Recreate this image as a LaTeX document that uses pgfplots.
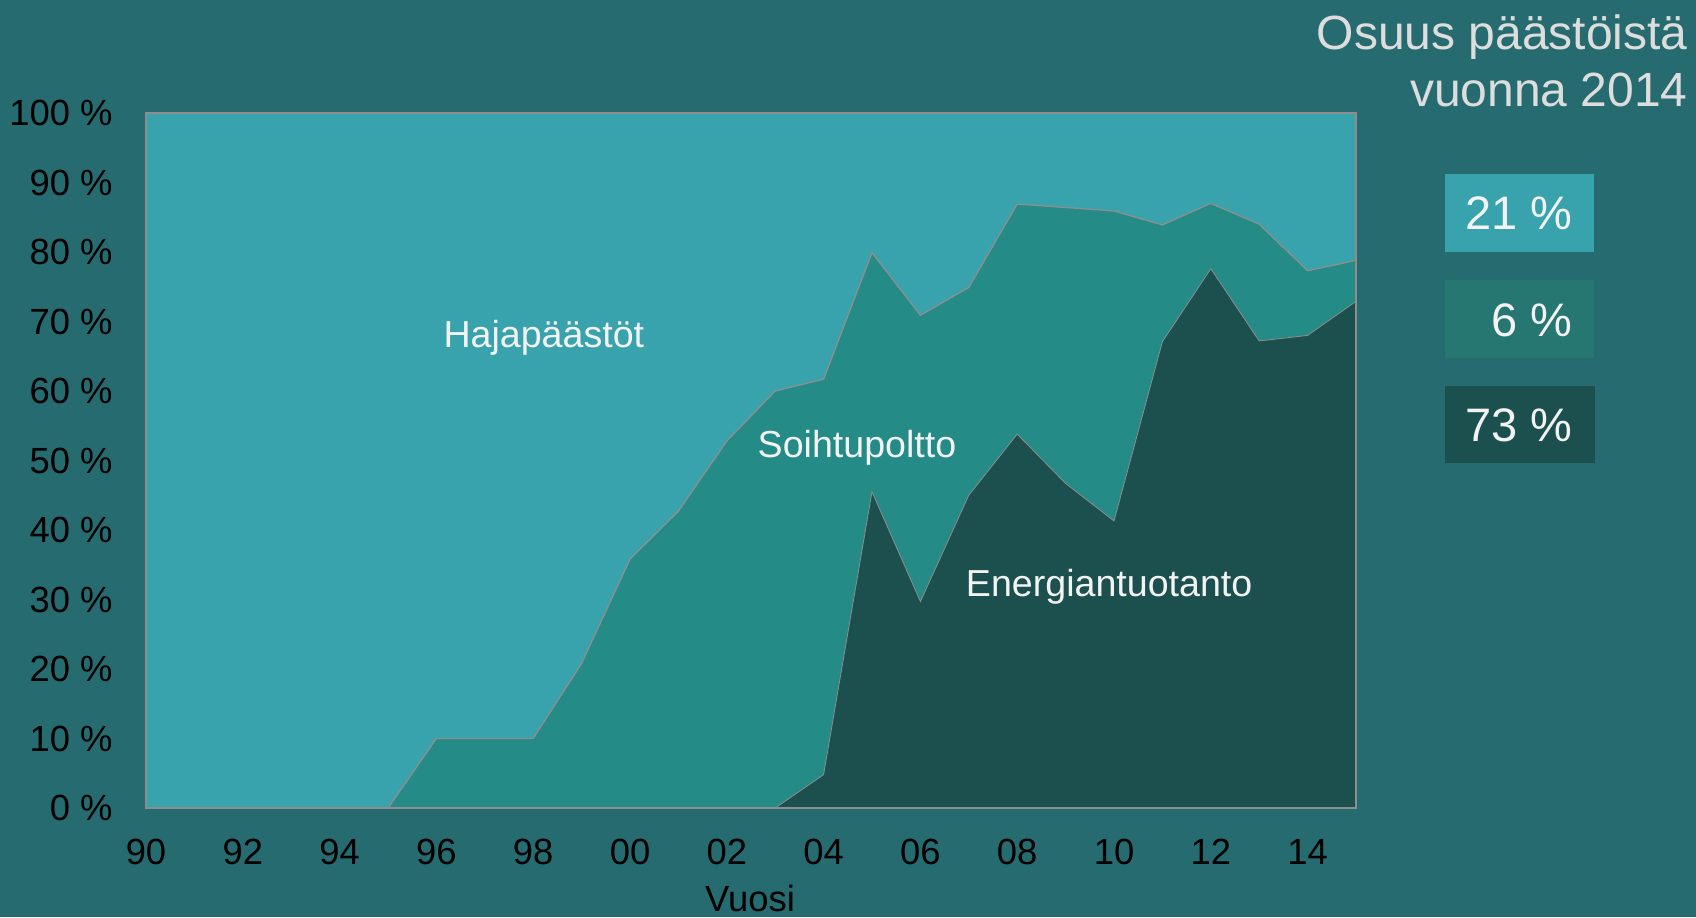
\documentclass[border=0pt]{standalone}
\usepackage{fontspec}
\setmainfont{Liberation Sans}
\usepackage{pgfplots}
\pgfplotsset{compat=1.18}
\usepackage{pgfplotstable}

\definecolor{bg}{RGB}{37,107,112}
\definecolor{haja}{RGB}{56,163,173}
\definecolor{soiht}{RGB}{36,139,134}
\definecolor{ener}{RGB}{27,80,79}
\definecolor{box2}{RGB}{38,118,113}
\definecolor{edge}{RGB}{142,142,142}
\definecolor{ttl}{RGB}{221,221,221}
\definecolor{wtxt}{RGB}{243,243,243}

% osuudet (%): energiantuotanto, soihtupoltto, hajapaastot
\pgfplotstableread{
year ener soiht haja
1990 0    0    100
1991 0    0    100
1992 0    0    100
1993 0    0    100
1994 0    0    100
1995 0    0    100
1996 0    10   90
1997 0    10   90
1998 0    10   90
1999 0    20.8 79.2
2000 0    35.8 64.2
2001 0    42.7 57.3
2002 0    52.8 47.2
2003 0    60.0 40.0
2004 4.8  56.9 38.3
2005 45.5 34.4 20.1
2006 29.7 41.2 29.1
2007 45.0 29.9 25.1
2008 53.8 33.1 13.1
2009 46.7 39.7 13.6
2010 41.3 44.6 14.1
2011 67.1 16.8 16.1
2012 77.6 9.4  13.0
2013 67.2 16.8 16.0
2014 68.0 9.3  22.7
2015 72.9 5.9  21.2
}\shares

\newcommand{\fs}[1]{\fontsize{#1}{1.2\dimexpr#1\relax}\selectfont}

\begin{document}
\begin{tikzpicture}
\useasboundingbox (0,0) rectangle (848pt,458.5pt);
\fill[bg] (0,0) rectangle (848pt,458.5pt);

\begin{axis}[
    at={(73pt,54.5pt)}, anchor=south west,
    scale only axis, width=605pt, height=347.5pt,
    xmin=1990, xmax=2015, ymin=0, ymax=100,
    axis on top,
    axis line style={draw=edge, line width=0.65pt},
    major tick length=0pt,
    xtick={1990,1992,...,2014},
    xticklabels={90,92,94,96,98,00,02,04,06,08,10,12,14},
    ytick={0,10,...,100},
    yticklabels={0 \%,10 \%,20 \%,30 \%,40 \%,50 \%,60 \%,70 \%,80 \%,90 \%,100 \%},
    tick label style={font=\fs{18.2pt}, text=black, inner sep=0pt},
    yticklabel style={anchor=east, xshift=-16.5pt},
    xticklabel style={anchor=north, yshift=-15.5pt},
]
\addplot[fill=haja, draw=none] table[x=year, y expr=\thisrow{ener}+\thisrow{soiht}+\thisrow{haja}] {\shares} \closedcycle;
\addplot[fill=soiht, draw=none] table[x=year, y expr=\thisrow{ener}+\thisrow{soiht}] {\shares} \closedcycle;
\addplot[fill=ener, draw=none] table[x=year, y=ener] {\shares} \closedcycle;
\addplot[draw=edge, line width=0.65pt, no marks] table[x=year, y expr=\thisrow{ener}+\thisrow{soiht}] {\shares};
\addplot[draw=edge, line width=0.4pt, no marks] table[x=year, y=ener] {\shares};

\node[anchor=base, text=wtxt, font=\fs{18.8pt}] at (axis cs:1998.22,66.2) {Hajapäästöt};
\node[anchor=base, text=wtxt, font=\fs{18.8pt}] at (axis cs:2004.69,50.5) {Soihtupoltto};
\node[anchor=base, text=wtxt, font=\fs{18.8pt}] at (axis cs:2009.9,30.4) {Energiantuotanto};
\end{axis}

\node[anchor=base, font=\fs{18.2pt}, text=black] at (375pt,3pt) {Vuosi};

\node[anchor=base east, inner sep=0pt, text=ttl, font=\fs{24pt}] at (844pt,433.5pt) {Osuus päästöistä};
\node[anchor=base east, inner sep=0pt, text=ttl, font=\fs{24pt}] at (844pt,405pt) {vuonna 2014};

\fill[haja] (722.5pt,332.5pt) rectangle (797pt,371.5pt);
\fill[box2] (722.5pt,279.5pt) rectangle (797pt,318.5pt);
\fill[ener] (722.5pt,227pt) rectangle (797.5pt,265.5pt);
\node[anchor=base east, inner sep=0pt, text=wtxt, font=\fs{23.5pt}] at (786.5pt,343.5pt) {21 \%};
\node[anchor=base east, inner sep=0pt, text=wtxt, font=\fs{23.5pt}] at (786.5pt,290.2pt) {6 \%};
\node[anchor=base east, inner sep=0pt, text=wtxt, font=\fs{23.5pt}] at (786.5pt,237.7pt) {73 \%};
\end{tikzpicture}
\end{document}
